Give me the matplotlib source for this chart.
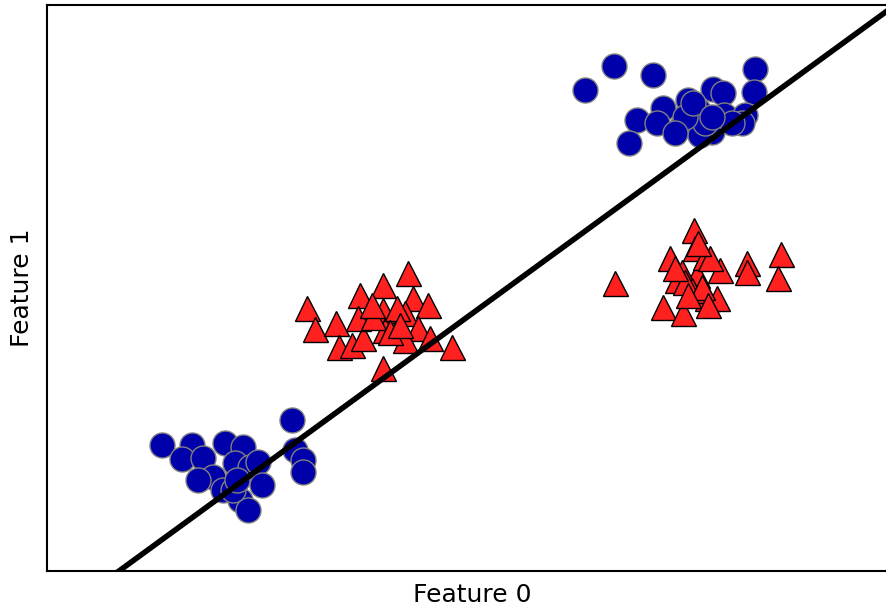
import numpy as np
import matplotlib
matplotlib.use("Agg")
import matplotlib.pyplot as plt

# point positions (feature 0, feature 1)
blue_x = [162, 192, 182, 203, 225, 243, 235, 213, 198, 250, 258, 262, 240, 248,
          223, 233, 292, 295, 303, 303, 237,
          585, 614, 653, 755, 754, 713, 723, 688, 698, 663, 637, 657, 682, 712,
          724, 745, 742, 700, 629, 705, 685, 732, 693, 712, 675]
blue_y = [162, 162, 148, 149, 164, 160, 144, 130, 127, 140, 145, 122, 107, 97,
          117, 117, 187, 157, 147, 135, 127,
          517, 541, 532, 538, 515, 518, 514, 507, 497, 499, 487, 484, 481, 475,
          492, 492, 484, 472, 464, 484, 490, 484, 504, 490, 474]

red_x = [307, 315, 336, 339, 352, 363, 360, 358, 383, 383, 385, 408, 413, 405,
         428, 418, 405, 430, 452, 383, 397, 373, 390, 372, 400,
         615, 694, 670, 695, 720, 747, 747, 781, 778, 663, 683, 707, 717, 697,
         682, 677, 692, 705, 710, 685, 702, 688, 708, 675, 698]
red_y = [299, 278, 284, 260, 262, 269, 312, 289, 322, 297, 277, 334, 309, 294,
         302, 279, 267, 269, 260, 239, 299, 290, 275, 302, 282,
         324, 377, 349, 359, 337, 344, 335, 353, 329, 300, 294, 309, 309, 332,
         335, 327, 317, 350, 349, 325, 320, 312, 302, 339, 364]

# decision line through two points
line_x = [119, 887]
line_y = [36, 596]

fig = plt.figure(figsize=(8.87, 6.07), dpi=100)
ax = fig.add_axes([47 / 887, 36 / 607, 850 / 887, 566 / 607])

ax.plot(blue_x, blue_y, 'o', color='#0000aa', markersize=18,
        markeredgecolor='grey', markeredgewidth=1, linestyle='none')
ax.plot(red_x, red_y, '^', color='#ff2020', markersize=18,
        markeredgecolor='black', markeredgewidth=1, linestyle='none')

slope = (line_y[1] - line_y[0]) / (line_x[1] - line_x[0])
xs = np.array([47, 897])
ax.plot(xs, line_y[0] + slope * (xs - line_x[0]), color='black', linewidth=4)

ax.set_xlim(47, 897)
ax.set_ylim(36, 602)
ax.set_xticks([])
ax.set_yticks([])
for sp in ax.spines.values():
    sp.set_linewidth(1.5)
ax.set_xlabel('Feature 0', fontsize=18, labelpad=9)
ax.set_ylabel('Feature 1', fontsize=18, labelpad=9)

fig.savefig('out.png', dpi=100)
